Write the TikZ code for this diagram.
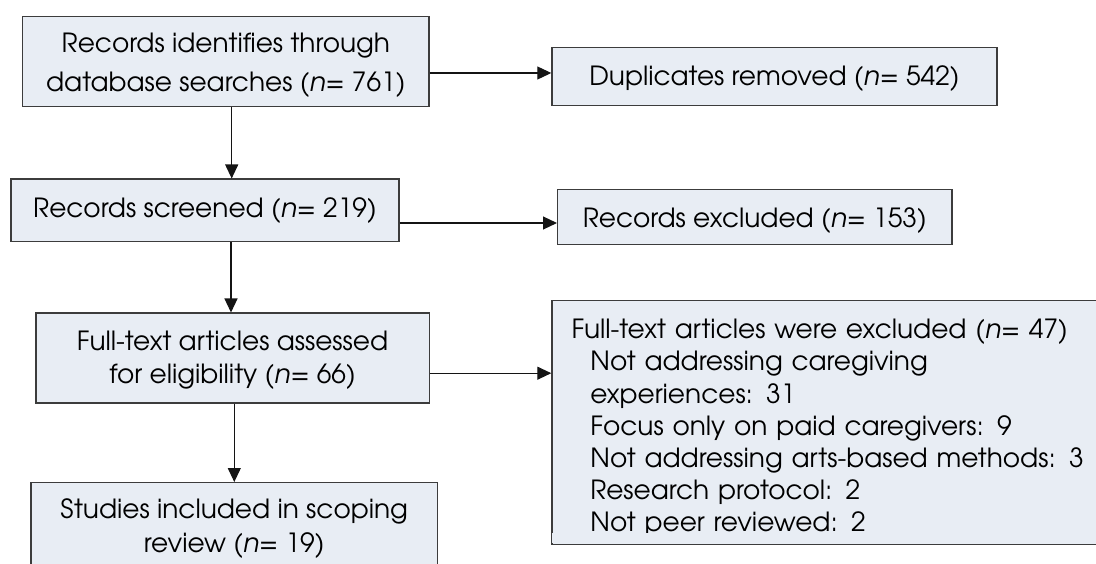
\documentclass[tikz,border=0pt]{standalone}
\usepackage{fontspec}
\setmainfont{texgyreadventor}[Extension=.otf, UprightFont=*-regular, ItalicFont=*-italic, BoldFont=*-bold, BoldItalicFont=*-bolditalic]
\usetikzlibrary{arrows.meta}
\definecolor{boxfill}{RGB}{232,237,244}
\definecolor{boxline}{RGB}{60,60,60}
\definecolor{arrline}{RGB}{20,20,20}
\newcommand{\nvar}{\textit{n}}
\newcommand{\toph}[1]{\rule{0pt}{#1pt}}
\newcommand{\botd}[1]{\rule[-#1pt]{0pt}{0pt}}
\begin{document}
\begin{tikzpicture}[x=1pt,y=-1pt,
  box/.style={draw=boxline, fill=boxfill, line width=1.4pt, inner ysep=6pt, inner xsep=4pt,
              anchor=north, align=center, font=\fontsize{26.4}{33.4}\selectfont},
  leftbox/.style={draw=boxline, fill=boxfill, line width=1.4pt, inner ysep=6pt, inner xsep=19.5pt,
              anchor=north west, align=left, text width=529pt, font=\fontsize{26.4}{32.2}\selectfont},
  arr/.style={draw=arrline, line width=1.1pt, -{Triangle[length=14pt,width=13pt]}}]
\useasboundingbox (0,0) rectangle (1096,564);
\clip (0,0) rectangle (1096,564);

% left column
\node[box, minimum width=406.3pt, font=\fontsize{26.4}{38.9}\selectfont] (b1) at (225.85,15.7)
  {\toph{30.6}Records identifies through\\database searches (\nvar= 761)\botd{8.5}};
\node[box, minimum width=388pt] (b2) at (205,178.5)
  {\toph{32.5}Records screened (\nvar= 219)\botd{18}};
\node[box, minimum width=393.2pt] (b3) at (232.6,312.5)
  {\toph{30.8}Full-text articles assessed\\for eligibility (\nvar= 66)\botd{13.6}};
\node[box, minimum width=406.5pt, font=\fontsize{26.4}{33.7}\selectfont] (b4) at (234.25,482)
  {\toph{30}Studies included in scoping\\review (\nvar= 19)\botd{12}};

% right column
\node[box, minimum width=445pt] (dup) at (774.5,47)
  {\toph{32}Duplicates removed (\nvar= 542)\botd{14}};
\node[box, minimum width=394.3pt] (exc) at (754.85,189)
  {\toph{32.3}Records excluded (\nvar= 153)\botd{10.7}};
\node[leftbox] (ftx) at (551.3,300)
  {\toph{32}Full-text articles were excluded (\nvar= 47)\\
   \hspace*{18.8pt}Not addressing caregiving\\
   \hspace*{18.8pt}experiences: 31\\
   \hspace*{18.8pt}Focus only on paid caregivers: 9\\
   \hspace*{18.8pt}Not addressing arts-based methods: 3\\
   \hspace*{18.8pt}Research protocol: 2\\
   \hspace*{18.8pt}Not peer reviewed: 2\botd{6.8}};
% text frame of the last box cuts the descenders of its last line
\fill[boxfill] (552.1,532.5) rectangle (1100,543.2);

% connectors
\draw[arr] ([xshift=5.85pt]b1.south) -- ([xshift=5.85pt]b1.south |- b2.north);
\draw[arr] ([xshift=26pt]b2.south) -- ([xshift=26pt]b2.south |- b3.north);
\draw[arr] ([xshift=1.7pt]b3.south) -- ([xshift=1.7pt]b3.south |- b4.north);
\draw[arr] ([yshift=-11.6pt]b1.east) -- ([yshift=-11.6pt]b1.east -| dup.west);
\draw[arr] ([yshift=-12.55pt]b2.east) -- ([yshift=-12.55pt]b2.east -| exc.west);
\draw[arr] ([yshift=-15.1pt]b3.east) -- ([yshift=-15.1pt]b3.east -| ftx.west);
\end{tikzpicture}
\end{document}
